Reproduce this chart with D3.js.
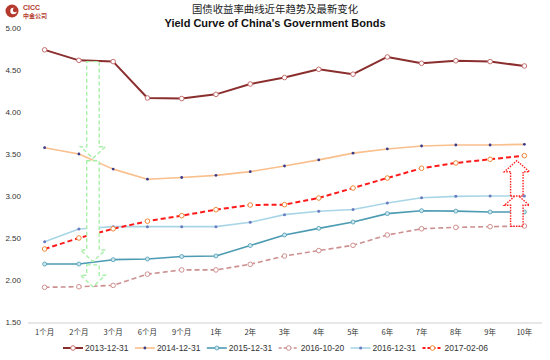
<!DOCTYPE html>
<html><head><meta charset="utf-8">
<script src="https://cdn.jsdelivr.net/npm/d3@7"></script>
<style>body{margin:0;background:#fff}svg{display:block}</style>
</head><body>
<svg id="c" width="550" height="360"></svg>
<script>
const categories = ["1个月","2个月","3个月","6个月","9个月","1年","2年","3年","4年","5年","6年","7年","8年","9年","10年"];
const yTicks = [1.5, 2.0, 2.5, 3.0, 3.5, 4.0, 4.5, 5.0];
const s2013 = [4.74,4.615,4.60,4.167,4.16,4.21,4.333,4.41,4.508,4.45,4.655,4.58,4.61,4.60,4.548];
const s2014 = [3.575,3.50,3.32,3.20,3.22,3.246,3.29,3.357,3.43,3.51,3.56,3.595,3.607,3.607,3.615];
const s2015 = [2.19,2.19,2.242,2.25,2.28,2.286,2.41,2.536,2.615,2.69,2.79,2.825,2.82,2.81,2.81];
const s20161020 = [1.913,1.92,1.936,2.07,2.12,2.12,2.187,2.286,2.35,2.413,2.536,2.61,2.627,2.635,2.643];
const s20161231 = [2.456,2.607,2.635,2.635,2.635,2.635,2.687,2.778,2.818,2.84,2.917,2.98,2.996,3.0,3.0];
const s20170206 = [2.369,2.50,2.61,2.70,2.766,2.837,2.893,2.897,2.976,3.095,3.214,3.33,3.393,3.437,3.48];
const seriesNames = ["2013-12-31","2014-12-31","2015-12-31","2016-10-20","2016-12-31","2017-02-06"];
// annotation arrows: [category, offset in steps, from value, to value]
const greenArrows = [["2个月",0.41,4.60,3.45],["2个月",0.41,3.42,2.22],["2个月",0.41,2.18,1.92]];
const redArrows = [["10年",-0.22,2.64,3.02],["10年",-0.22,3.00,3.42]];

const svg = d3.select("#c");
const x = d3.scaleBand().domain(categories).range([27.5, 541.5]);
const y = d3.scaleLinear().domain([1.5, 5.0]).range([322, 28]);
const cx = c => x(c) + x.bandwidth()/2;

const styles = [
  {data:s2013, color:"#8b2e2e", w:2, dash:null, m:{r:2.3, fill:"#fff", stroke:"#c77070", sw:1}},
  {data:s2014, color:"#f9bf8c", w:1.6, dash:null, m:{r:1.4, fill:"#3b3b8a", stroke:"none", sw:0}},
  {data:s2015, color:"#4c9bb2", w:1.6, dash:null, m:{r:2, fill:"#cde8ef", stroke:"#4c9bb2", sw:0.8}},
  {data:s20161020, color:"#cc9090", w:1.6, dash:"5,3", m:{r:2.3, fill:"#fff", stroke:"#d09090", sw:1}},
  {data:s20161231, color:"#a9d6e6", w:1.6, dash:null, m:{r:1.5, fill:"#6a7cc0", stroke:"none", sw:0}},
  {data:s20170206, color:"#ff1a1a", w:2, dash:"5,3", m:{r:2.3, fill:"#fff", stroke:"#ee8a3a", sw:1}}
];

// Titles
svg.append("text").attr("x",275).attr("y",13).attr("text-anchor","middle")
  .attr("font-family","'Noto Sans CJK SC'").attr("font-size",10.4).attr("fill","#222")
  .text("国债收益率曲线近年趋势及最新变化");
svg.append("text").attr("x",275).attr("y",27).attr("text-anchor","middle")
  .attr("font-family","'Liberation Sans',Arial").attr("font-weight","bold").attr("font-size",11).attr("fill","#111")
  .text("Yield Curve of China's Government Bonds");

// Logo
const logo = svg.append("g");
logo.append("circle").attr("cx",12).attr("cy",11).attr("r",6.5).attr("fill","#b5392c");
logo.append("circle").attr("cx",13.5).attr("cy",11).attr("r",3.2).attr("fill","#fff");
logo.append("circle").attr("cx",15).attr("cy",10).attr("r",2.2).attr("fill","#b5392c");
logo.append("text").attr("x",23).attr("y",9.5).attr("font-family","'Liberation Sans',Arial").attr("font-weight","bold")
  .attr("font-size",7).attr("fill","#b5392c").text("CICC");
logo.append("text").attr("x",23).attr("y",17.5).attr("font-family","'Noto Sans CJK SC'").attr("font-weight","bold")
  .attr("font-size",6).attr("fill","#b5392c").text("中金公司");

// Y axis labels
svg.append("g").selectAll("text").data(yTicks).join("text")
  .attr("x",21).attr("y",d=>y(d)+3).attr("text-anchor","end")
  .attr("font-family","'Liberation Sans',Arial").attr("font-size",8).attr("fill","#333")
  .text(d=>d.toFixed(2));

// X axis
const xa = svg.append("g").attr("transform","translate(0,322.5)")
  .call(d3.axisBottom(x).tickSize(0).tickPadding(7));
xa.select(".domain").attr("stroke","#d0d0d0").attr("stroke-width",1.2);
xa.selectAll("text").attr("font-family","'Noto Sans CJK SC'").attr("font-size",7.5).attr("fill","#333");

// Lines
const line = d3.line().x((d,i)=>cx(categories[i])).y(d=>y(d));
styles.forEach(s=>{
  svg.append("path").attr("d",line(s.data)).attr("fill","none").attr("stroke",s.color)
    .attr("stroke-width",s.w).attr("stroke-dasharray",s.dash).attr("stroke-linejoin","round");
  svg.append("g").selectAll("circle").data(s.data).join("circle")
    .attr("cx",(d,i)=>cx(categories[i])).attr("cy",d=>y(d)).attr("r",s.m.r)
    .attr("fill",s.m.fill).attr("stroke",s.m.stroke).attr("stroke-width",s.m.sw);
});

// Arrows
function arrowPath(xc, y0, y1, bw, hw, hl){
  const dir = y1 > y0 ? 1 : -1; // 1 = down
  const yb = y1 - dir*hl;
  return `M${xc-bw/2},${y0} L${xc+bw/2},${y0} L${xc+bw/2},${yb} L${xc+hw/2},${yb} L${xc},${y1} L${xc-hw/2},${yb} L${xc-bw/2},${yb} Z`;
}
const step = x.step();
svg.append("g").selectAll("path").data(greenArrows).join("path")
  .attr("d",d=>arrowPath(cx(d[0])+d[1]*step, y(d[2]), y(d[3]), 12.5, 25, 11.5))
  .attr("fill","#fff").attr("stroke","#a8efa8").attr("stroke-width",1.4).attr("stroke-dasharray","4,2.5");
svg.append("g").selectAll("path").data(redArrows).join("path")
  .attr("d",d=>arrowPath(cx(d[0])+d[1]*step, y(d[2]), y(d[3]), 12.5, 25, 11))
  .attr("fill","#fff").attr("stroke","#ff2020").attr("stroke-width",1.4).attr("stroke-dasharray","1.5,1.2");

// Legend
const lg = svg.append("g");
styles.forEach((s,i)=>{
  const lx = 63 + i*71.9, ly = 348;
  lg.append("line").attr("x1",lx).attr("x2",lx+20).attr("y1",ly).attr("y2",ly)
    .attr("stroke",s.color).attr("stroke-width",s.w).attr("stroke-dasharray",s.dash ? "3,2" : null);
  lg.append("circle").attr("cx",lx+10).attr("cy",ly).attr("r",s.m.r)
    .attr("fill",s.m.fill).attr("stroke",s.m.stroke).attr("stroke-width",s.m.sw);
  lg.append("text").attr("x",lx+22).attr("y",ly+3).attr("font-family","'Liberation Sans',Arial")
    .attr("font-size",8.5).attr("fill","#333").text(seriesNames[i]);
});
</script>
</body></html>
